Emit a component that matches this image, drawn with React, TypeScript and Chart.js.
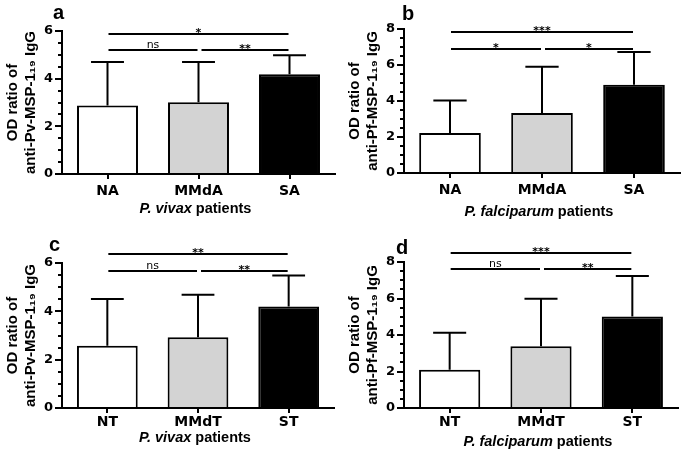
import React, { useEffect, useRef } from "react";
import { Chart, registerables } from "chart.js";

Chart.register(...registerables);

// ---------- data ----------
const severityCats = ["NA", "MMdA", "SA"];
const treatmentCats = ["NT", "MMdT", "ST"];

const pvSeverityMean = [2.87, 3.01, 4.19];
const pvSeveritySD = [1.83, 1.69, 0.79];
const pfSeverityMean = [2.22, 3.33, 4.9];
const pfSeveritySD = [1.81, 2.57, 1.82];
const pvTreatMean = [2.58, 2.93, 4.2];
const pvTreatSD = [1.93, 1.76, 1.28];
const pfTreatMean = [2.1, 3.38, 5.02];
const pfTreatSD = [2.03, 2.61, 2.21];

const pvAxisMax = 6;
const pfAxisMax = 8;
const majorStep = 2;
const minorStep = 0.5;

// comparisons: [from index, to index, y value, label]
type Bracket = [number, number, number, string];
const pvSeverityBrackets: Bracket[] = [[0, 2, 5.86, "*"], [0, 1, 5.22, "ns"], [1, 2, 5.22, "**"]];
const pfSeverityBrackets: Bracket[] = [[0, 2, 7.83, "***"], [0, 1, 6.9, "*"], [1, 2, 6.9, "*"]];
const pvTreatBrackets: Bracket[] = [[0, 2, 6.37, "**"], [0, 1, 5.66, "ns"], [1, 2, 5.66, "**"]];
const pfTreatBrackets: Bracket[] = [[0, 2, 8.51, "***"], [0, 1, 7.63, "ns"], [1, 2, 7.63, "**"]];

const pvYTitle = ["OD ratio of", "anti-Pv-MSP-1\u2081\u2089 IgG"];
const pfYTitle = ["OD ratio of", "anti-Pf-MSP-1\u2081\u2089 IgG"];
const pvSpecies = "P. vivax";
const pfSpecies = "P. falciparum";

const barColors = ["#ffffff", "#d3d3d3", "#000000"];

// ---------- panels ----------
interface PanelDef {
  letter: string;
  cats: string[];
  means: number[];
  sds: number[];
  max: number;
  brackets: Bracket[];
  yTitle: string[];
  species: string;
  left: number;
  top: number;
  w: number;
  h: number;
  areaTop: number;
  areaBottom: number;
  padRight: number;
  tickPad: number;
  titleBase: number;
  letterX: number;
  letterBase: number;
}

const panels: PanelDef[] = [
  {
    letter: "a", cats: severityCats, means: pvSeverityMean, sds: pvSeveritySD, max: pvAxisMax,
    brackets: pvSeverityBrackets, yTitle: pvYTitle, species: pvSpecies,
    left: 0, top: 0, w: 342, h: 229, areaTop: 31, areaBottom: 174, padRight: 7, tickPad: 4,
    titleBase: 213, letterX: 53, letterBase: 19,
  },
  {
    letter: "b", cats: severityCats, means: pfSeverityMean, sds: pfSeveritySD, max: pfAxisMax,
    brackets: pfSeverityBrackets, yTitle: pfYTitle, species: pfSpecies,
    left: 342, top: 0, w: 343, h: 229, areaTop: 29, areaBottom: 173, padRight: 5, tickPad: 4,
    titleBase: 215.5, letterX: 60, letterBase: 20,
  },
  {
    letter: "c", cats: treatmentCats, means: pvTreatMean, sds: pvTreatSD, max: pvAxisMax,
    brackets: pvTreatBrackets, yTitle: pvYTitle, species: pvSpecies,
    left: 0, top: 229, w: 342, h: 229, areaTop: 34, areaBottom: 179, padRight: 8, tickPad: 1,
    titleBase: 212.5, letterX: 49, letterBase: 22,
  },
  {
    letter: "d", cats: treatmentCats, means: pfTreatMean, sds: pfTreatSD, max: pfAxisMax,
    brackets: pfTreatBrackets, yTitle: pfYTitle, species: pfSpecies,
    left: 342, top: 229, w: 343, h: 229, areaTop: 33, areaBottom: 179, padRight: 7, tickPad: 1,
    titleBase: 216.5, letterX: 54, letterBase: 25,
  },
];

const SANS = "'DejaVu Sans', sans-serif";
const ARIAL = "'Liberation Sans', Arial, sans-serif";

function makePlugin(p: PanelDef) {
  return {
    id: "annot_" + p.letter,
    afterDatasetsDraw(chart: any) {
      const ctx = chart.ctx;
      const ys = chart.scales.y;
      const meta = chart.getDatasetMeta(0);
      ctx.save();
      ctx.strokeStyle = "#000";
      ctx.lineWidth = 2;
      meta.data.forEach((el: any, i: number) => {
        const x = el.x;
        const yb = el.y;
        const yt = ys.getPixelForValue(p.means[i] + p.sds[i]);
        const half = el.width * 0.27;
        ctx.beginPath();
        ctx.moveTo(x, yb);
        ctx.lineTo(x, yt);
        ctx.moveTo(x - half, yt);
        ctx.lineTo(x + half, yt);
        ctx.stroke();
      });
      ctx.restore();
    },
    afterDraw(chart: any) {
      const ctx = chart.ctx;
      const xs = chart.scales.x;
      const ys = chart.scales.y;
      const area = chart.chartArea;
      ctx.save();
      ctx.strokeStyle = "#000";
      ctx.fillStyle = "#000";
      ctx.lineWidth = 2;

      // minor ticks on y axis
      const ax = area.left;
      for (let v = 0; v <= p.max + 1e-9; v += minorStep) {
        if (Math.abs(v / majorStep - Math.round(v / majorStep)) < 1e-6) continue;
        const y = Math.round(ys.getPixelForValue(v));
        ctx.beginPath();
        ctx.moveTo(ax - 4, y);
        ctx.lineTo(ax, y);
        ctx.stroke();
      }

      // significance brackets
      p.brackets.forEach(([a, b, val, label]) => {
        const y = Math.round(ys.getPixelForValue(val));
        const x1 = xs.getPixelForValue(a) + (a > 0 ? 3 : 1);
        const x2 = xs.getPixelForValue(b) - 1;
        ctx.beginPath();
        ctx.moveTo(x1, y);
        ctx.lineTo(x2, y);
        ctx.stroke();
        ctx.textAlign = "center";
        ctx.textBaseline = "alphabetic";
        const cx = (x1 + x2) / 2;
        if (label === "ns") {
          ctx.font = `normal 11px ${SANS}`;
          ctx.fillText(label, cx, y - 2);
        } else {
          ctx.font = `bold 11px ${SANS}`;
          ctx.fillText(label, cx, y + 2);
        }
      });

      // x-axis title with italic species name
      const parts = [
        { t: p.species, f: `italic bold 14.5px ${ARIAL}` },
        { t: " patients", f: `bold 14.5px ${ARIAL}` },
      ];
      let total = 0;
      const widths = parts.map((pt) => {
        ctx.font = pt.f;
        const w = ctx.measureText(pt.t).width;
        total += w;
        return w;
      });
      let x = (area.left + area.right) / 2 - total / 2 - 3;
      ctx.textAlign = "left";
      ctx.textBaseline = "alphabetic";
      parts.forEach((pt, i) => {
        ctx.font = pt.f;
        ctx.fillText(pt.t, x, p.titleBase);
        x += widths[i];
      });

      // panel letter
      ctx.font = `bold 20px ${ARIAL}`;
      ctx.fillText(p.letter, p.letterX, p.letterBase);
      ctx.restore();
    },
  };
}

function Panel({ p }: { p: PanelDef }) {
  const ref = useRef<HTMLCanvasElement>(null);
  useEffect(() => {
    if (!ref.current) return;
    const chart = new Chart(ref.current, {
      type: "bar",
      data: {
        labels: p.cats,
        datasets: [
          {
            data: p.means,
            backgroundColor: barColors,
            borderColor: "#000",
            borderWidth: 2,
            borderSkipped: "bottom",
            barPercentage: 0.67,
            categoryPercentage: 1,
          },
        ],
      },
      options: {
        animation: false,
        responsive: false,
        maintainAspectRatio: false,
        events: [],
        layout: { padding: { top: p.areaTop, right: p.padRight, left: 0, bottom: 0 } },
        plugins: { legend: { display: false }, tooltip: { enabled: false }, title: { display: false } },
        scales: {
          x: {
            type: "category",
            grid: {
              display: true,
              drawOnChartArea: false,
              drawTicks: true,
              tickLength: 5,
              offset: false,
              color: "#000",
              lineWidth: 2,
            },
            border: { display: true, color: "#000", width: 2 },
            ticks: { color: "#000", padding: p.tickPad, font: { family: SANS, size: 14, weight: "bold" } },
            afterFit: (s: any) => {
              s.height = p.h - p.areaBottom;
            },
          },
          y: {
            min: 0,
            max: p.max,
            grid: {
              display: true,
              drawOnChartArea: false,
              drawTicks: true,
              tickLength: 7,
              color: "#000",
              lineWidth: 2,
            },
            border: { display: true, color: "#000", width: 2 },
            ticks: {
              stepSize: majorStep,
              color: "#000",
              padding: 2,
              font: { family: SANS, size: 13, weight: "bold" },
            },
            title: {
              display: true,
              text: p.yTitle,
              color: "#000",
              padding: { top: 4, bottom: 0 },
              font: { family: ARIAL, size: 15, weight: "bold", lineHeight: 1.2 },
            },
            afterFit: (s: any) => {
              s.width = 62;
            },
          },
        },
      },
      plugins: [makePlugin(p)],
    } as any);
    return () => chart.destroy();
  }, [p]);
  return (
    <canvas
      ref={ref}
      width={p.w}
      height={p.h}
      style={{ position: "absolute", left: p.left, top: p.top, width: p.w, height: p.h, display: "block" }}
    />
  );
}

export default function App() {
  useEffect(() => {
    document.body.style.margin = "0";
    document.body.style.background = "#fff";
  }, []);
  return (
    <div style={{ position: "absolute", left: 0, top: 0, width: 685, height: 458, background: "#fff" }}>
      {panels.map((p) => (
        <Panel key={p.letter} p={p} />
      ))}
    </div>
  );
}
